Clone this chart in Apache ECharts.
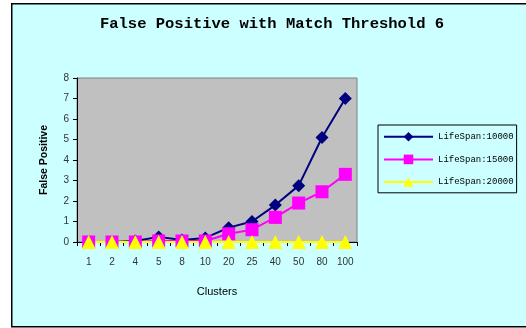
<!DOCTYPE html>
<html>
<head>
<meta charset="utf-8">
<script src="https://cdn.jsdelivr.net/npm/echarts@6/dist/echarts.min.js"></script>
<style>
  html, body { margin: 0; padding: 0; background: #fff; }
  #chart { width: 526px; height: 328px; }
</style>
</head>
<body>
<div id="chart"></div>
<script>
var clusters = ["1", "2", "4", "5", "8", "10", "20", "25", "40", "50", "80", "100"];
var life10000 = [0, 0, 0.05, 0.25, 0.1, 0.2, 0.7, 1.0, 1.8, 2.75, 5.1, 7.0];
var life15000 = [0, 0, 0, 0.05, 0.05, 0.05, 0.4, 0.6, 1.2, 1.9, 2.45, 3.3];
var life20000 = [0, 0, 0, 0, 0, 0, 0, 0, 0, 0, 0, 0];
var yTicks = [0, 1, 2, 3, 4, 5, 6, 7, 8];

var chart = echarts.init(document.getElementById("chart"));

var option = {
  animation: false,
  graphic: [
    { // outer chart frame
      type: "rect",
      left: 11, top: 3,
      shape: { width: 530, height: 323 },
      style: { fill: "#CCFFFF", stroke: "#000", lineWidth: 1.5 },
      z: -10
    }
  ],
  title: {
    text: "False Positive with Match Threshold 6",
    left: 267, top: 11,
    textAlign: "center",
    textStyle: { fontFamily: "Liberation Mono", fontWeight: "bold", fontSize: 15.5, color: "#000" }
  },
  legend: {
    orient: "vertical",
    left: 378, top: 125,
    padding: [7, 3, 6, 5],
    itemGap: 13,
    itemWidth: 49, itemHeight: 12,
    borderColor: "#000", borderWidth: 1,
    backgroundColor: "#CCFFFF",
    textStyle: { fontFamily: "Liberation Mono", fontSize: 9, color: "#000" },
    data: ["LifeSpan:10000", "LifeSpan:15000", "LifeSpan:20000"]
  },
  grid: { left: 77, top: 78, width: 280, height: 164, show: true, backgroundColor: "#C0C0C0", borderColor: "#808080", borderWidth: 1 },
  xAxis: {
    type: "category",
    data: clusters,
    boundaryGap: true,
    name: "Clusters",
    nameLocation: "middle",
    nameGap: 44,
    nameTextStyle: { fontFamily: "Liberation Sans", fontSize: 11, color: "#000" },
    axisLine: { lineStyle: { color: "#000", width: 1 } },
    axisTick: { show: true, length: 4, inside: false, lineStyle: { color: "#000" } },
    axisLabel: { margin: 15, fontFamily: "Liberation Sans", fontSize: 10, color: "#333" }
  },
  yAxis: {
    type: "value",
    min: yTicks[0], max: yTicks[yTicks.length - 1], interval: 1,
    name: "False Positive",
    nameLocation: "middle",
    nameGap: 27,
    nameTextStyle: { fontFamily: "Liberation Sans", fontWeight: "bold", fontSize: 10.5, color: "#000" },
    axisLine: { show: true, lineStyle: { color: "#000", width: 1 } },
    axisTick: { show: true, length: 4, lineStyle: { color: "#000" } },
    axisLabel: { margin: 8, fontFamily: "Liberation Sans", fontSize: 10, color: "#333" },
    splitLine: { show: false }
  },
  series: [
    {
      name: "LifeSpan:10000", type: "line", data: life10000,
      symbol: "diamond", symbolSize: 13,
      lineStyle: { color: "#000080", width: 2 },
      itemStyle: { color: "#000080" }
    },
    {
      name: "LifeSpan:15000", type: "line", data: life15000,
      symbol: "rect", symbolSize: 13,
      lineStyle: { color: "#FF00FF", width: 2 },
      itemStyle: { color: "#FF00FF" }
    },
    {
      name: "LifeSpan:20000", type: "line", data: life20000,
      symbol: "triangle", symbolSize: 14,
      lineStyle: { color: "#FFFF00", width: 2 },
      itemStyle: { color: "#FFFF00" }
    }
  ]
};

chart.setOption(option);
</script>
</body>
</html>
